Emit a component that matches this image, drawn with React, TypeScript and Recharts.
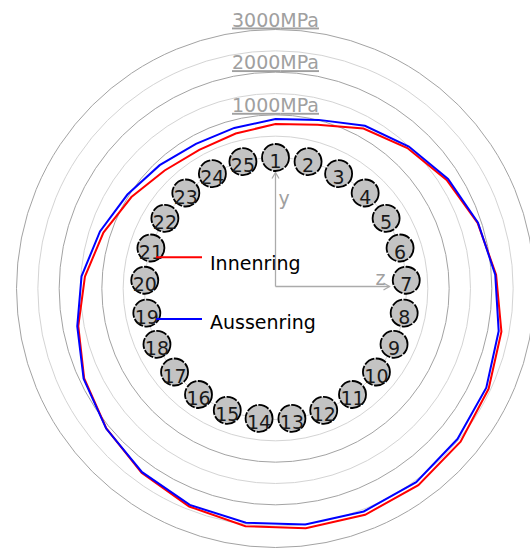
import React from 'react';
import { RadarChart, Radar, PolarGrid, PolarAngleAxis, PolarRadiusAxis, Legend } from 'recharts';

// Bolt positions (categories), clockwise from the top
const bolts = ['1', '2', '3', '4', '5', '6', '7', '8', '9', '10', '11', '12', '13', '14', '15', '16', '17', '18', '19', '20', '21', '22', '23', '24', '25'];

// Stress in MPa at each bolt
const innenring = [785, 890, 1210, 1445, 1680, 1910, 2110, 2320, 2450, 2560, 2625, 2635, 2595, 2545, 2425, 2270, 2075, 1885, 1635, 1405, 1170, 930, 725, 640, 680];
const aussenring = [900, 1010, 1280, 1495, 1720, 1920, 2090, 2255, 2390, 2465, 2540, 2550, 2505, 2465, 2385, 2250, 2080, 1900, 1660, 1485, 1255, 1040, 895, 800, 815];

// Bolt circle sits on the 0 MPa ring
const boltRing = [0, 0, 0, 0, 0, 0, 0, 0, 0, 0, 0, 0, 0, 0, 0, 0, 0, 0, 0, 0, 0, 0, 0, 0, 0];

const majorTicks = [1000, 2000, 3000];
const minorTicks = [0, 500, 1500, 2500];
const radiusDomain = [0, 3000];
const tickUnit = 'MPa';
const seriesNames = ['Innenring', 'Aussenring'];
const axisLabels = ['y', 'z'];

const data = bolts.map((b, i) => ({
  bolt: b,
  innen: innenring[i],
  aussen: aussenring[i],
  ring: boltRing[i],
}));

const FONT = '"DejaVu Sans", Verdana, sans-serif';
const GRID_DARK = '#a3a3a3';
const GRID_LIGHT = '#d4d4d4';
const TEXT_GRAY = '#a0a0a0';

const MpaTick = (props: any) => {
  const { x, y, payload } = props;
  return (
    <text
      x={x}
      y={y - 3}
      textAnchor="middle"
      fill={TEXT_GRAY}
      fontSize={19}
      fontFamily={FONT}
      textDecoration="underline"
    >
      {payload.value}
      {tickUnit}
    </text>
  );
};

const BoltLayer = (props: any) => {
  const points = props.points || [];
  if (!points.length) return null;
  const cx = points[0].cx;
  const cy = points[0].cy;
  const ox = cx;
  const oy = cy - 2;
  const len = 114;
  const axisStroke = '#ababab';
  return (
    <g>
      {/* y axis */}
      <line x1={ox} y1={oy} x2={ox} y2={oy - len} stroke={axisStroke} strokeWidth={1.3} />
      <polyline
        points={`${ox - 3.5},${oy - len + 6} ${ox},${oy - len} ${ox + 3.5},${oy - len + 6}`}
        fill="none"
        stroke={axisStroke}
        strokeWidth={1.3}
      />
      {/* z axis */}
      <line x1={ox} y1={oy} x2={ox + len} y2={oy} stroke={axisStroke} strokeWidth={1.3} />
      <polyline
        points={`${ox + len - 6},${oy - 3.5} ${ox + len},${oy} ${ox + len - 6},${oy + 3.5}`}
        fill="none"
        stroke={axisStroke}
        strokeWidth={1.3}
      />
      <text x={ox + 3} y={oy - 82} fill={TEXT_GRAY} fontSize={19} fontFamily={FONT}>
        {axisLabels[0]}
      </text>
      <text x={ox + 110} y={oy - 2} textAnchor="end" fill={TEXT_GRAY} fontSize={19} fontFamily={FONT}>
        {axisLabels[1]}
      </text>
      {points.map((p: any, i: number) => (
        <g key={i}>
          <circle
            cx={p.x}
            cy={p.y}
            r={13.5}
            fill="#c3c3c3"
            stroke="#000"
            strokeWidth={1.8}
            strokeDasharray="11 1.5"
          />
          <text
            x={p.x}
            y={p.y + 10.5}
            textAnchor="middle"
            fill="#1a1a1a"
            fontSize={19}
            fontFamily={FONT}
          >
            {p.payload.bolt}
          </text>
        </g>
      ))}
    </g>
  );
};

const LegendContent = (props: any) => {
  const items = (props.payload || [])
    .filter((p: any) => seriesNames.includes(p.value))
    .sort((a: any, b: any) => seriesNames.indexOf(a.value) - seriesNames.indexOf(b.value));
  return (
    <svg width={200} height={100} style={{ display: 'block', overflow: 'visible' }}>
      {items.map((it: any, i: number) => (
        <g key={i}>
          <line x1={6} x2={52} y1={17.3 + i * 61.7} y2={17.3 + i * 61.7} stroke={it.color} strokeWidth={2} />
          <text x={60} y={30 + i * 59.3} fill="#000" fontSize={19} fontFamily={FONT}>
            {it.value}
          </text>
        </g>
      ))}
    </svg>
  );
};

export default function App() {
  return (
    <div style={{ position: 'absolute', left: 0, top: 0, width: 530, height: 550, background: '#fff' }}>
      <RadarChart
        width={530}
        height={550}
        data={data}
        cx={275.5}
        cy={288.5}
        innerRadius={131}
        outerRadius={259}
        startAngle={90}
        endAngle={-270}
        margin={{ top: 0, right: 0, bottom: 0, left: 0 }}
      >
        <PolarAngleAxis dataKey="bolt" tick={false} axisLine={false} tickLine={false} />
        <PolarRadiusAxis
          radiusAxisId="minor"
          angle={90}
          type="number"
          domain={radiusDomain}
          ticks={minorTicks}
          tick={false}
          axisLine={false}
          tickLine={false}
        />
        <PolarGrid gridType="circle" radialLines={false} radiusAxisId="minor" stroke={GRID_LIGHT} strokeWidth={1} />
        <PolarGrid gridType="circle" radialLines={false} stroke={GRID_DARK} strokeWidth={1} />
        <PolarRadiusAxis
          angle={90}
          type="number"
          domain={radiusDomain}
          ticks={majorTicks}
          tick={<MpaTick />}
          axisLine={false}
          tickLine={false}
        />
        <Radar
          name={seriesNames[0]}
          dataKey="innen"
          stroke="#ff0000"
          strokeWidth={2}
          fill="none"
          fillOpacity={0}
          dot={false}
          isAnimationActive={false}
        />
        <Radar
          name={seriesNames[1]}
          dataKey="aussen"
          stroke="#0000ff"
          strokeWidth={2}
          fill="none"
          fillOpacity={0}
          dot={false}
          isAnimationActive={false}
        />
        <Radar
          name="bolts"
          dataKey="ring"
          radiusAxisId="minor"
          legendType="none"
          shape={<BoltLayer />}
          dot={false}
          isAnimationActive={false}
        />
        <Legend
          layout="horizontal"
          align="center"
          verticalAlign="middle"
          content={<LegendContent />}
          wrapperStyle={{ left: 150, top: 240, width: 200, height: 100 }}
        />
      </RadarChart>
    </div>
  );
}
